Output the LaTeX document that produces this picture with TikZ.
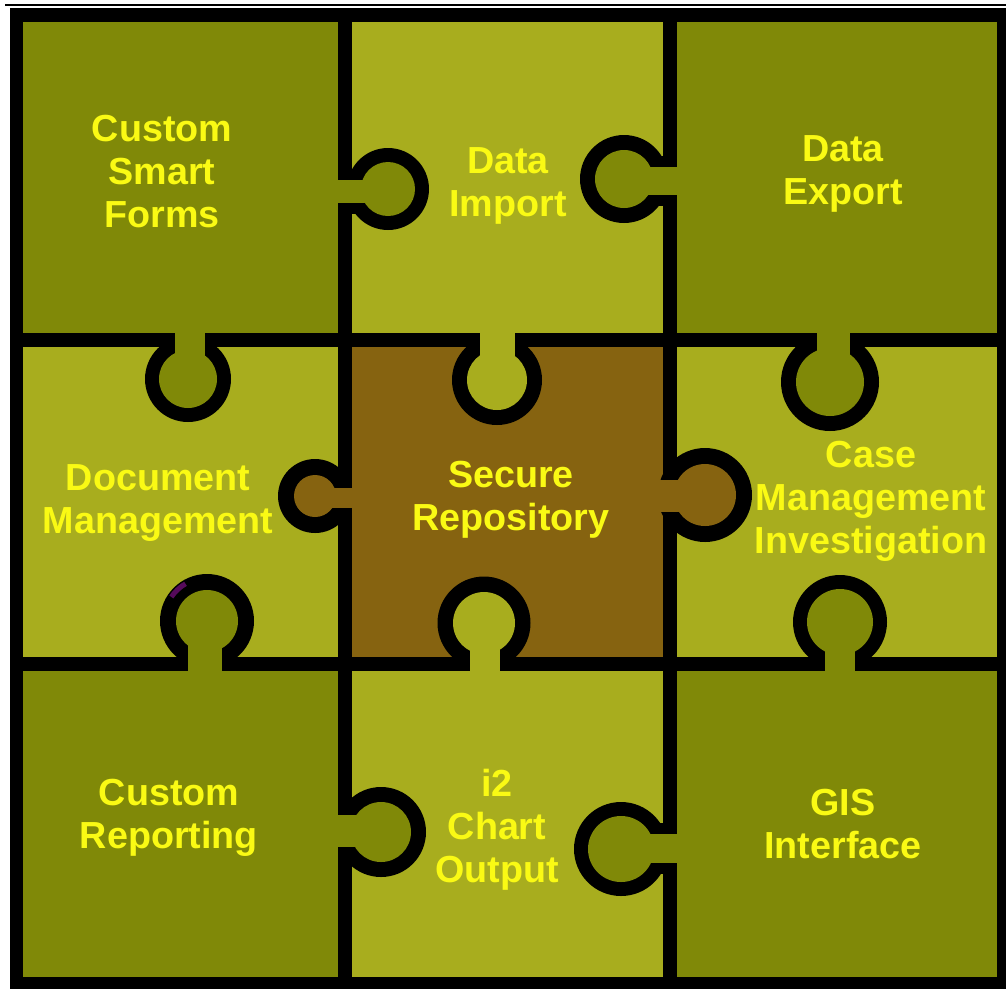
\documentclass[tikz,border=0pt]{standalone}
\usepackage{fontspec}
\setmainfont{Liberation Sans}
\definecolor{darkolive}{RGB}{128,137,8}
\definecolor{lightolive}{RGB}{168,173,30}
\definecolor{repobrown}{RGB}{134,99,16}
\definecolor{labelyellow}{RGB}{250,250,20}
\definecolor{markpurple}{RGB}{85,10,90}
% horizontal knob: cx, cy, R, r, half neck, neck y, divider x, owner x, colour
\newcommand\pzknobh[9]{%
  \fill[black] (#1,#2) circle[radius=#3];
  \fill[black] (#7,#6-#5-11) rectangle (#1,#6+#5+11);
  \fill[#9] (#1,#2) circle[radius=#4];
  \fill[#9] (#8,#6-#5) rectangle (#1,#6+#5);}
% vertical knob: cx, cy, R, r, half neck, neck x, divider y, owner y, colour
\newcommand\pzknobv[9]{%
  \fill[black] (#1,#2) circle[radius=#3];
  \fill[black] (#6-#5-11,#7) rectangle (#6+#5+11,#2);
  \fill[#9] (#1,#2) circle[radius=#4];
  \fill[#9] (#6-#5,#8) rectangle (#6+#5,#2);}
\begin{document}
\begin{tikzpicture}[x=1pt,y=-1pt,
  lbl/.style={text=labelyellow, font=\bfseries\fontsize{37.7}{43}\selectfont,
              align=center, inner sep=0pt, anchor=base}]
\useasboundingbox (0,0) rectangle (1006,989);
\fill[white] (0,0) rectangle (1006,989);
% thin rule at the top
\fill[black] (5,3.8) rectangle (1006,6.4);
% black frame and dividers
\fill[black] (9.5,8) rectangle (1006,989);
% cells
\fill[darkolive]  (23,22)   rectangle (338,333);
\fill[lightolive] (352,22)  rectangle (663,333);
\fill[darkolive]  (677,22)  rectangle (997,333);
\fill[lightolive] (23,347)  rectangle (338,657);
\fill[repobrown]  (352,347) rectangle (663,657);
\fill[lightolive] (677,347) rectangle (997,657);
\fill[darkolive]  (23,671)  rectangle (338,977);
\fill[lightolive] (352,671) rectangle (663,977);
\fill[darkolive]  (677,671) rectangle (997,977);
% knobs across vertical dividers
\pzknobh{388}{189}{41}{27}{11.5}{191}{345}{330}{darkolive}
\pzknobh{624}{179}{44}{29}{14}{181}{670}{685}{darkolive}
\pzknobh{315}{496}{37}{21}{10}{498}{345}{360}{repobrown}
\pzknobh{705}{495}{47}{31}{16}{496}{670}{655}{repobrown}
\pzknobh{381}{832}{45}{30}{16}{831}{345}{330}{darkolive}
\pzknobh{621}{849}{47}{33}{14.5}{848}{670}{685}{darkolive}
% knobs across horizontal dividers
\pzknobv{188}{379}{43}{29}{15}{190}{340}{325}{darkolive}
\pzknobv{497}{380}{45}{30}{17.5}{497}{340}{325}{lightolive}
\pzknobv{830}{382}{49}{34}{16.5}{833}{340}{325}{darkolive}
\pzknobv{207}{621}{47}{31}{17}{205}{664}{679}{darkolive}
\pzknobv{484}{623}{46.5}{31}{15}{485}{664}{679}{lightolive}
\pzknobv{840}{622}{47}{33}{15}{840}{664}{679}{darkolive}
% small purple mark on a ring
\draw[markpurple, line width=5pt] (207,621) ++(-146:43) arc[start angle=-146, end angle=-120, radius=43];
% labels (anchor=base sits on the last line)
\node[lbl] (csf) at (162,227) {Custom\\Smart\\Forms};
\node[lbl] (dim) at (508,216) {Data\\Import};
\node[lbl] (dex) at (843,204) {Data\\Export};
\node[lbl] (dmg) at (158,533) {Document\\Management};
\node[lbl] (srp) at (511,530) {Secure\\Repository};
\node[lbl] (cmi) at (871,553) {Case\\Management\\Investigation};
\node[lbl] (crp) at (169,848) {Custom\\Reporting};
\node[lbl] (ico) at (497,882) {i2\\Chart\\Output};
\node[lbl] (gis) at (843,858) {GIS\\Interface};
\end{tikzpicture}
\end{document}
